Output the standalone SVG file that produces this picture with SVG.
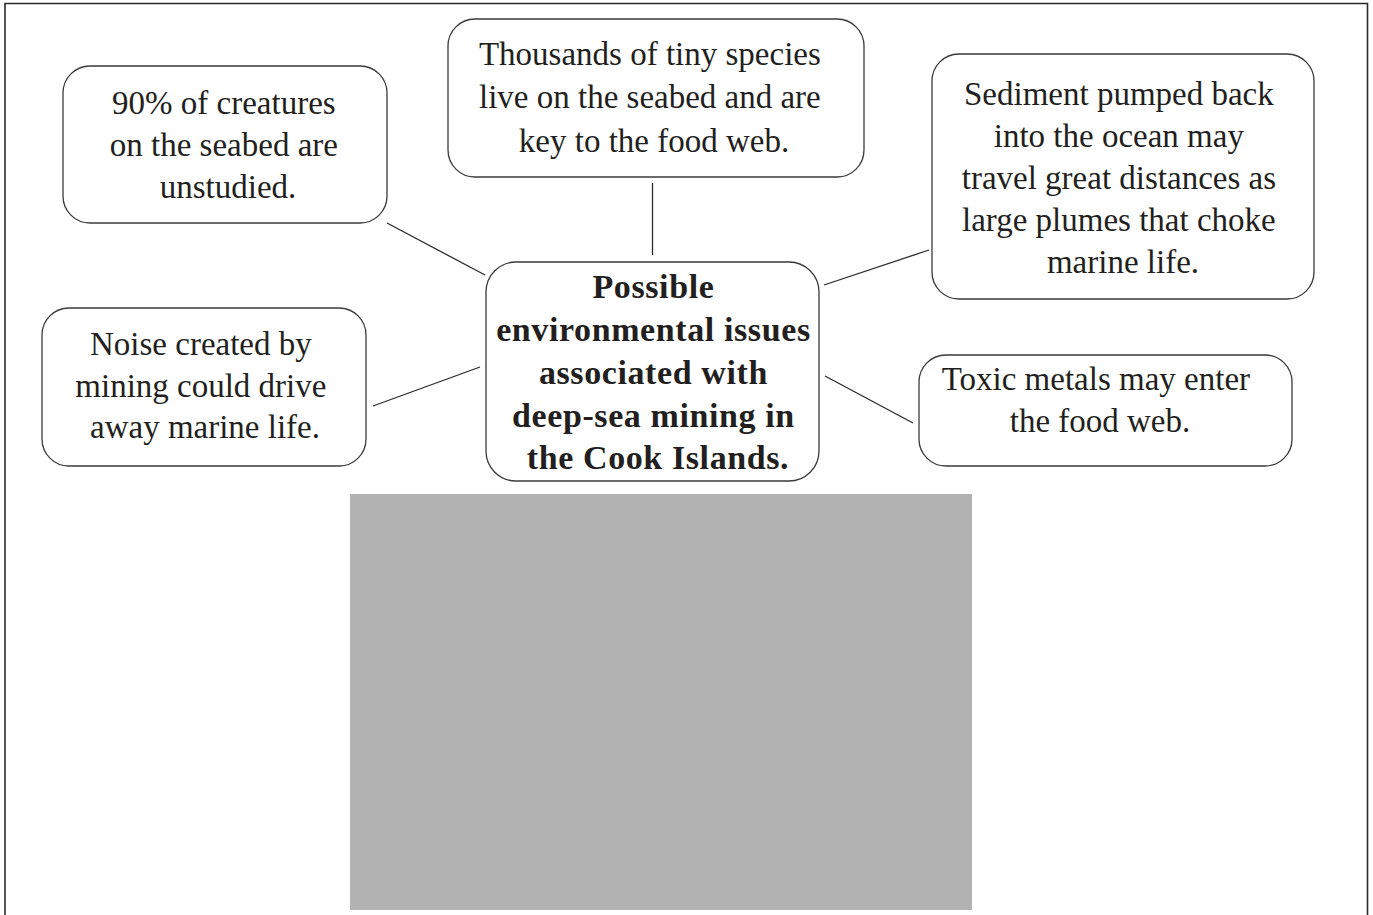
<svg xmlns="http://www.w3.org/2000/svg" width="1373" height="915" viewBox="0 0 1373 915">
  <style>
    .box { fill: #ffffff; stroke: #3a3a3a; stroke-width: 1.3; }
    .t { font-family: "Liberation Serif", "Times New Roman", serif; font-size: 33px; fill: #231f20; text-anchor: middle; }
    .b { font-weight: bold; font-size: 34px; letter-spacing: 0.6px; }
    .link { stroke: #2a2a2a; stroke-width: 1.3; fill: none; }
  </style>
  <rect width="1373" height="915" fill="#ffffff"/>
  <!-- outer frame, open at the bottom -->
  <path d="M5 915 V3.5 H1367.5 V915" fill="none" stroke="#2a2a2a" stroke-width="1.6"/>

  <g id="connectors">
    <line class="link" x1="387" y1="223" x2="485" y2="275"/>
    <line class="link" x1="652.5" y1="183" x2="652.5" y2="255"/>
    <line class="link" x1="824" y1="285" x2="929" y2="250"/>
    <line class="link" x1="373" y1="406" x2="480" y2="367"/>
    <line class="link" x1="825" y1="376" x2="913" y2="423"/>
  </g>

  <g id="center">
    <rect class="box" x="486" y="262" width="333" height="219" rx="30"/>
    <text class="t b">
      <tspan x="658" y="298">Possible</tspan>
      <tspan x="658" y="341">environmental issues</tspan>
      <tspan x="658" y="384">associated with</tspan>
      <tspan x="658" y="427">deep-sea mining in</tspan>
      <tspan x="658" y="469">the Cook Islands.</tspan>
    </text>
  </g>

  <g id="unstudied">
    <rect class="box" x="63" y="66" width="324" height="157" rx="27"/>
    <text class="t">
      <tspan x="228" y="114">90% of creatures</tspan>
      <tspan x="228" y="156">on the seabed are</tspan>
      <tspan x="228" y="198">unstudied.</tspan>
    </text>
  </g>

  <g id="tiny-species">
    <rect class="box" x="448" y="19" width="416" height="158" rx="27"/>
    <text class="t">
      <tspan x="654" y="65">Thousands of tiny species</tspan>
      <tspan x="654" y="108">live on the seabed and are</tspan>
      <tspan x="654" y="152">key to the food web.</tspan>
    </text>
  </g>

  <g id="sediment">
    <rect class="box" x="932" y="54" width="382" height="245" rx="27"/>
    <text class="t">
      <tspan x="1123" y="105">Sediment pumped back</tspan>
      <tspan x="1123" y="147">into the ocean may</tspan>
      <tspan x="1123" y="189">travel great distances as</tspan>
      <tspan x="1123" y="231">large plumes that choke</tspan>
      <tspan x="1123" y="273">marine life.</tspan>
    </text>
  </g>

  <g id="noise">
    <rect class="box" x="42" y="308" width="324" height="158" rx="27"/>
    <text class="t">
      <tspan x="205" y="355">Noise created by</tspan>
      <tspan x="205" y="397">mining could drive</tspan>
      <tspan x="205" y="438">away marine life.</tspan>
    </text>
  </g>

  <g id="toxic">
    <rect class="box" x="919" y="355" width="373" height="111" rx="27"/>
    <text class="t">
      <tspan x="1100" y="390">Toxic metals may enter</tspan>
      <tspan x="1100" y="432">the food web.</tspan>
    </text>
  </g>

  <rect id="image-placeholder" x="350" y="494" width="622" height="416" fill="#b2b2b2"/>
</svg>
